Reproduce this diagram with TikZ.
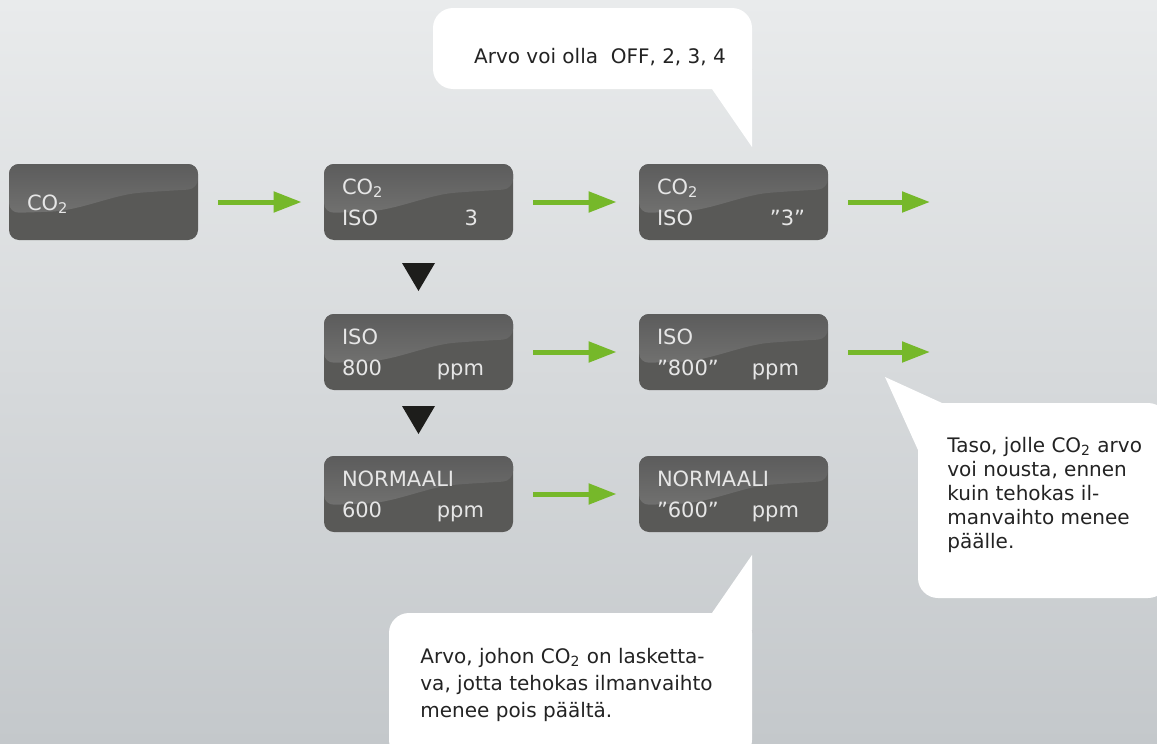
\documentclass[tikz,border=0pt]{standalone}
\usepackage{fontspec}
\setmainfont{DejaVu Sans}
\usetikzlibrary{arrows.meta,calc}

\definecolor{bgtop}{HTML}{E9EBEC}
\definecolor{bgbot}{HTML}{C4C8CB}
\definecolor{lcddark}{HTML}{595957}
\definecolor{lcdtop}{HTML}{5C5C5C}
\definecolor{lcdglow}{HTML}{7C7C7A}
\definecolor{lcdtext}{HTML}{E6E6E6}
\definecolor{flowgreen}{HTML}{76B82A}
\definecolor{notetext}{HTML}{232323}
\definecolor{marker}{HTML}{1D1D1B}

\newcommand{\cotwo}{CO\textsubscript{2}}

\begin{document}
\begin{tikzpicture}[x=0.5pt,y=-0.5pt,
  lcd/.style={fill=lcddark, rounded corners=5pt, minimum width=94.5pt,
    minimum height=38pt, inner sep=0pt,
    path picture={
      \shade[top color=lcdtop, bottom color=lcdglow]
        (path picture bounding box.north west)
        -- (path picture bounding box.north east)
        -- ([yshift=-12.5pt]path picture bounding box.north east)
        -- ([shift={(70pt,-14pt)}]path picture bounding box.north west)
        .. controls ([shift={(52pt,-15.5pt)}]path picture bounding box.north west)
           and ([shift={(36pt,-23pt)}]path picture bounding box.north west)
        .. ([shift={(17pt,-24pt)}]path picture bounding box.north west)
        -- ([yshift=-24.5pt]path picture bounding box.north west) -- cycle;
    }},
  lcdtxt/.style={text=lcdtext, font=\fontsize{10.5}{13}\selectfont, inner sep=0pt},
  flow/.style={draw=flowgreen, line width=2.5pt,
    -{Triangle[length=14pt,width=10pt]}, shorten <=10pt, shorten >=11pt},
  note/.style={text=notetext, font=\fontsize{10}{12}\selectfont, inner sep=0pt},
  bubble/.style={fill=white, rounded corners=10pt}]

  \useasboundingbox (0,0) rectangle (1157,744);
  \clip (0,0) rectangle (1157,744);
  \shade[top color=bgtop, bottom color=bgbot] (0,0) rectangle (1157,744);

  % Speech bubbles
  \fill[bubble] (433,8) rectangle (752,89);
  \fill[white] (712,70) -- (752,70) -- (752,147) -- (712,89) -- cycle;
  \fill[bubble] (918,403) rectangle (1168,598);
  \fill[white] (885,377) -- (942,403) -- (942,450) -- (918,450) -- cycle;
  \fill[bubble] (389,613) rectangle (752,760);
  \fill[white] (752,555) -- (752,630) -- (712,630) -- (712,613) -- cycle;

  \node[note, anchor=base] (offnote) at (600,63) {Arvo voi olla\ \ OFF, 2, 3, 4};
  \node[note, anchor=base west, align=left] (isonote) at (947,548)
    {Taso, jolle \cotwo{} arvo\\voi nousta, ennen\\kuin tehokas il-\\manvaihto menee\\päälle.};
  \node[note, anchor=base west, align=left, font=\fontsize{10}{13.5}\selectfont] (normalnote) at (420,717)
    {Arvo, johon \cotwo{} on lasketta-\\va, jotta tehokas ilmanvaihto\\menee pois päältä.};

  % Displays
  \node[lcd] (start)     at (103.5,202) {};
  \node[lcd] (co2iso)    at (418.5,202) {};
  \node[lcd] (co2isoset) at (733.5,202) {};
  \node[lcd] (iso)       at (418.5,352) {};
  \node[lcd] (isoset)    at (733.5,352) {};
  \node[lcd] (normal)    at (418.5,494) {};
  \node[lcd] (normalset) at (733.5,494) {};

  % Display texts
  \node[lcdtxt, anchor=base west] (start-a) at ([shift={(9pt,-23.5pt)}]start.north west) {\cotwo};
  \foreach \disp/\lineA/\lineB in {co2iso/\cotwo/ISO, co2isoset/\cotwo/ISO,
      iso/ISO/800, isoset/ISO/”800”, normal/NORMAALI/600, normalset/NORMAALI/”600”} {
    \node[lcdtxt, anchor=base west] (\disp-a) at ([shift={(9pt,-15.5pt)}]\disp.north west) {\lineA};
    \node[lcdtxt, anchor=base west] (\disp-b) at ([shift={(9pt,-31pt)}]\disp.north west) {\lineB};
  }
  \node[lcdtxt, anchor=base east] (co2iso-c) at ([shift={(-17.5pt,-31pt)}]co2iso.north east) {3};
  \node[lcdtxt, anchor=base east] (co2isoset-c) at ([shift={(-11.5pt,-31pt)}]co2isoset.north east) {”3”};
  \foreach \disp in {iso, isoset, normal, normalset}
    \node[lcdtxt, anchor=base east] (\disp-c) at ([shift={(-14.5pt,-31pt)}]\disp.north east) {ppm};

  % Arrows
  \coordinate (co2out) at (952,202);
  \coordinate (isoout) at (952,352);
  \draw[flow] (start) -- (co2iso);
  \draw[flow] (co2iso) -- (co2isoset);
  \draw[flow] (co2isoset) -- (co2out);
  \draw[flow] (iso) -- (isoset);
  \draw[flow] (isoset) -- (isoout);
  \draw[flow] (normal) -- (normalset);

  % Down markers
  \fill[marker] ($(co2iso.south)!0.5!(iso.north)$) ++(-16.5,-14) -- ++(33,0) -- ++(-16.5,28) -- cycle;
  \fill[marker] ($(iso.south)!0.5!(normal.north)$) ++(-16.5,-17) -- ++(33,0) -- ++(-16.5,28) -- cycle;
\end{tikzpicture}
\end{document}
